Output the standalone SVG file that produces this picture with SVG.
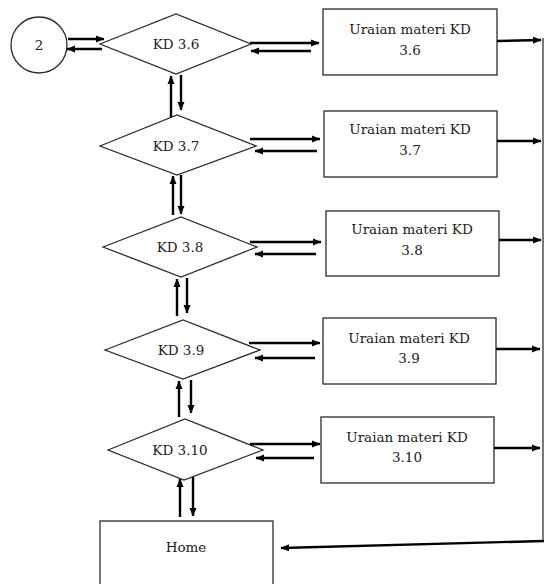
<svg xmlns="http://www.w3.org/2000/svg" width="544" height="584" viewBox="0 0 544 584">
  <defs>
    <marker id="ah" markerUnits="userSpaceOnUse" markerWidth="9" markerHeight="8" refX="8" refY="4" orient="auto">
      <path d="M0,0.5 L8.5,4 L0,7.5 z" fill="#000"/>
    </marker>
    <style>
      .shape { fill: #fff; stroke: #2b2b2b; stroke-width: 1.3; }
      .lbl { font-family: "DejaVu Serif", "Liberation Serif", serif; font-size: 13.5px; fill: #222; text-anchor: middle; }
      .flow { stroke: #000; stroke-width: 2.4; fill: none; marker-end: url(#ah); }
      .rail { stroke: #333; stroke-width: 1.3; fill: none; }
    </style>
  </defs>
  <rect width="544" height="584" fill="#fff"/>

  <!-- start connector -->
  <g id="start">
    <circle class="shape" cx="39" cy="45" r="28"/>
    <text class="lbl" x="39" y="50">2</text>
  </g>

  <!-- decision nodes -->
  <g id="kd36">
    <polygon class="shape" points="100,44 176,14 251,44 176,74"/>
    <text class="lbl" x="176" y="49">KD 3.6</text>
  </g>
  <g id="kd37">
    <polygon class="shape" points="100,146 177,115 256,146 177,175"/>
    <text class="lbl" x="176" y="151">KD 3.7</text>
  </g>
  <g id="kd38">
    <polygon class="shape" points="103,247 181,217 257,247 181,277"/>
    <text class="lbl" x="180" y="252">KD 3.8</text>
  </g>
  <g id="kd39">
    <polygon class="shape" points="105,350 183,320 260,350 183,379"/>
    <text class="lbl" x="181" y="355">KD 3.9</text>
  </g>
  <g id="kd310">
    <polygon class="shape" points="108,450 185,419 263,450 184,480"/>
    <text class="lbl" x="180" y="455">KD 3.10</text>
  </g>

  <!-- material boxes -->
  <g id="materi36">
    <rect class="shape" x="323" y="9" width="174" height="66"/>
    <text class="lbl" x="410" y="34">Uraian materi KD</text>
    <text class="lbl" x="410" y="55">3.6</text>
  </g>
  <g id="materi37">
    <rect class="shape" x="324" y="111" width="173" height="66"/>
    <text class="lbl" x="410" y="134">Uraian materi KD</text>
    <text class="lbl" x="410" y="155">3.7</text>
  </g>
  <g id="materi38">
    <rect class="shape" x="326" y="211" width="173" height="65"/>
    <text class="lbl" x="412" y="234">Uraian materi KD</text>
    <text class="lbl" x="412" y="255">3.8</text>
  </g>
  <g id="materi39">
    <rect class="shape" x="323" y="318" width="173" height="66"/>
    <text class="lbl" x="409" y="343">Uraian materi KD</text>
    <text class="lbl" x="409" y="363">3.9</text>
  </g>
  <g id="materi310">
    <rect class="shape" x="321" y="417" width="173" height="66"/>
    <text class="lbl" x="407" y="442">Uraian materi KD</text>
    <text class="lbl" x="407" y="462">3.10</text>
  </g>

  <!-- home box -->
  <g id="home">
    <rect class="shape" x="100" y="521" width="173" height="70"/>
    <text class="lbl" x="186" y="552">Home</text>
  </g>

  <!-- connectors -->
  <g id="connectors">
    <!-- start <-> KD 3.6 -->
    <line class="flow" x1="68" y1="39" x2="104" y2="39"/>
    <line class="flow" x1="102" y1="49" x2="67" y2="49"/>

    <!-- decision <-> material -->
    <line class="flow" x1="250" y1="43" x2="319" y2="43"/>
    <line class="flow" x1="311" y1="51" x2="251" y2="51"/>
    <line class="flow" x1="250" y1="139" x2="320" y2="139"/>
    <line class="flow" x1="317" y1="151" x2="255" y2="151"/>
    <line class="flow" x1="250" y1="242" x2="321" y2="242"/>
    <line class="flow" x1="316" y1="254" x2="255" y2="254"/>
    <line class="flow" x1="249" y1="343" x2="320" y2="343"/>
    <line class="flow" x1="315" y1="358" x2="255" y2="358"/>
    <line class="flow" x1="250" y1="444" x2="320" y2="444"/>
    <line class="flow" x1="314" y1="458" x2="256" y2="458"/>

    <!-- vertical decision chain -->
    <line class="flow" x1="171" y1="117" x2="171" y2="76"/>
    <line class="flow" x1="181" y1="75" x2="181" y2="110"/>
    <line class="flow" x1="173" y1="215" x2="173" y2="176"/>
    <line class="flow" x1="181" y1="175" x2="181" y2="214"/>
    <line class="flow" x1="177" y1="316" x2="177" y2="279"/>
    <line class="flow" x1="187" y1="278" x2="187" y2="313"/>
    <line class="flow" x1="179" y1="417" x2="179" y2="381"/>
    <line class="flow" x1="191" y1="380" x2="191" y2="413"/>
    <line class="flow" x1="180" y1="517" x2="180" y2="479"/>
    <line class="flow" x1="193" y1="477" x2="193" y2="516"/>

    <!-- material -> right rail -->
    <line class="flow" x1="497" y1="41" x2="541" y2="40"/>
    <line class="flow" x1="497" y1="141" x2="541" y2="141"/>
    <line class="flow" x1="499" y1="240" x2="541" y2="240"/>
    <line class="flow" x1="496" y1="349" x2="540" y2="349"/>
    <line class="flow" x1="494" y1="448" x2="540" y2="448"/>

    <!-- right rail back to home -->
    <line class="rail" x1="543" y1="38" x2="543" y2="541"/>
    <line class="flow" x1="544" y1="541" x2="281" y2="548"/>
  </g>
</svg>
